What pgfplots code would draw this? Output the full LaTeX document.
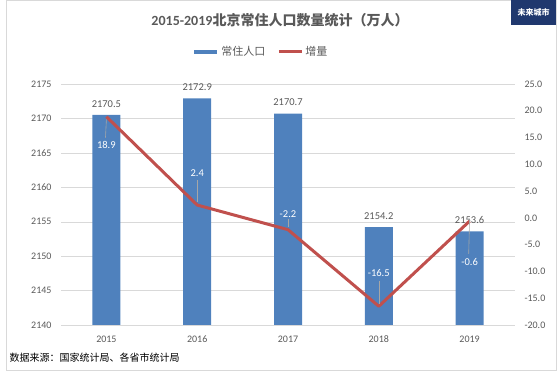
\documentclass[border=0pt]{standalone}
\usepackage{pgfplots}
\pgfplotsset{compat=1.18}
\usepackage{fontspec}
\setmainfont{Carlito}
\newfontfamily\cjk{Noto Sans CJK SC}
\definecolor{barblue}{RGB}{79,129,189}
\definecolor{linered}{RGB}{192,80,77}
\definecolor{txtgray}{RGB}{89,89,89}
\definecolor{gridgray}{RGB}{217,217,217}
\definecolor{leadgray}{RGB}{166,166,166}
\definecolor{navy}{RGB}{32,56,110}
\pgfkeys{/pgf/number format/1000 sep={}}
\begin{document}
\begin{tikzpicture}[x=1pt,y=1pt]
\path[use as bounding box] (0,0) rectangle (557,371);
\draw[gridgray] (6.5,0.5) rectangle (556.5,370.5);
\fill[navy] (511,346) rectangle (556,371);
\node[white, font=\cjk\fontsize{8}{9}\selectfont\bfseries] at (533.5,359) {未来城市};
\node[txtgray, font=\fontsize{14}{16}\selectfont\bfseries] at (280,351) {2015-2019{\cjk 北京常住人口数量统计（万人）}};
\node[black, anchor=west, font=\cjk\fontsize{10}{12}\selectfont] at (6,13) {数据来源：国家统计局、各省市统计局};
\begin{axis}[at={(61pt,46pt)}, anchor=south west, scale only axis,
  width=454pt, height=241pt,
  xmin=-0.5, xmax=4.5, ymin=2140, ymax=2175,
  ytick={2140,2145,...,2175},
  xtick={0,1,2,3,4}, xticklabels={2015,2016,2017,2018,2019},
  axis x line*=bottom, axis y line*=left,
  x axis line style={draw=gridgray},
  y axis line style={draw=none},
  major tick length=0pt,
  ymajorgrids, grid style={gridgray},
  tick label style={txtgray, font=\fontsize{10}{12}\selectfont},
  /pgf/number format/assume math mode=true,
  /pgf/number format/1000 sep={},
  yticklabel style={xshift=-6pt},
  xticklabel style={yshift=-7pt},
  legend style={at={(0.44,1.133)}, anchor=center, draw=none, fill=none,
    legend columns=2, font=\cjk\fontsize{11}{13}\selectfont, text=txtgray,
    /tikz/every even column/.append style={column sep=10pt}},
  legend image code/.code={\draw[#1] (0pt,0pt) -- (23pt,0pt);},
]
\addlegendimage{barblue, line width=4pt}
\addlegendentry{常住人口}
\addlegendimage{linered, line width=3pt}
\addlegendentry{增量}
\addplot[ybar, bar width=28pt, fill=barblue, draw=none, forget plot,
  nodes near coords, nodes near coords style={txtgray, font=\fontsize{10.5}{12}\selectfont, yshift=4pt,
  /pgf/number format/.cd, fixed, fixed zerofill, precision=1, 1000 sep={}, assume math mode=true}]
  coordinates {(0,2170.5) (1,2172.9) (2,2170.7) (3,2154.2) (4,2153.6)};
\end{axis}
\begin{axis}[at={(61pt,46pt)}, anchor=south west, scale only axis,
  width=454pt, height=241pt,
  xmin=-0.5, xmax=4.5, ymin=-20, ymax=25,
  ytick={-20,-15,...,25},
  axis y line*=right, axis x line=none,
  y axis line style={draw=none},
  major tick length=0pt,
  tick label style={txtgray, font=\fontsize{10}{12}\selectfont},
  yticklabel style={xshift=6pt, /pgf/number format/.cd, fixed, fixed zerofill, precision=1, assume math mode=true},
]
\addplot[linered, line width=3pt, no markers, line join=round]
  coordinates {(0,18.9) (1,2.4) (2,-2.2) (3,-16.5) (4,-0.6)};
\draw[leadgray, line width=0.6pt] (axis cs:0,18.4) -- (axis cs:-0.01,15.0);
\draw[leadgray, line width=0.6pt] (axis cs:1,3.0) -- (axis cs:1,7.0);
\draw[leadgray, line width=0.6pt] (axis cs:2,-1.7) -- (axis cs:2,-0.3);
\draw[leadgray, line width=0.6pt] (axis cs:3,-16.0) -- (axis cs:3,-11.8);
\draw[leadgray, line width=0.6pt] (axis cs:4,-0.1) -- (axis cs:3.99,-6.7);
\node[white, font=\fontsize{10.5}{12}\selectfont] at (axis cs:0,13.6) {18.9};
\node[white, font=\fontsize{10.5}{12}\selectfont] at (axis cs:1,8.4) {2.4};
\node[white, font=\fontsize{10.5}{12}\selectfont] at (axis cs:2,0.7) {-2.2};
\node[white, font=\fontsize{10.5}{12}\selectfont] at (axis cs:3,-10.3) {-16.5};
\node[white, font=\fontsize{10.5}{12}\selectfont] at (axis cs:4,-8.2) {-0.6};
\end{axis}
\end{tikzpicture}
\end{document}
